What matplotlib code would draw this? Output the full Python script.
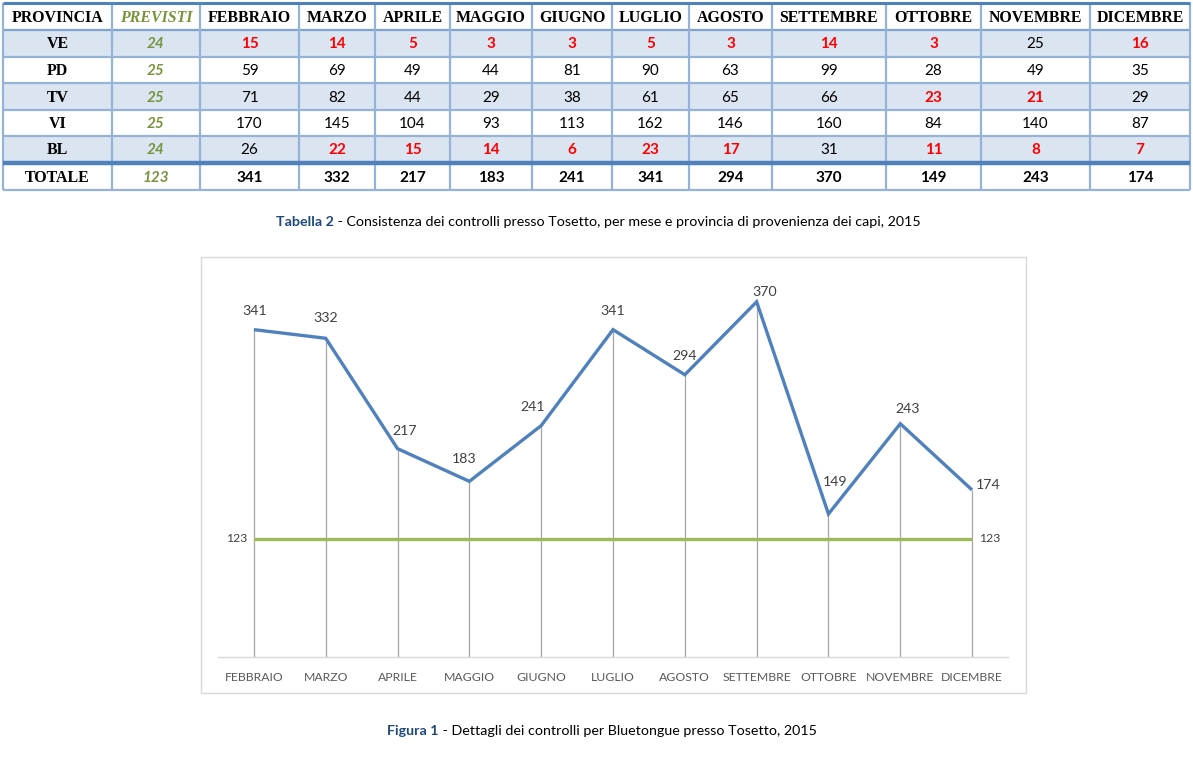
import matplotlib
matplotlib.use('Agg')
import matplotlib.pyplot as plt
from matplotlib.patches import Rectangle

# ---------------- data ----------------
months = ['FEBBRAIO', 'MARZO', 'APRILE', 'MAGGIO', 'GIUGNO', 'LUGLIO',
          'AGOSTO', 'SETTEMBRE', 'OTTOBRE', 'NOVEMBRE', 'DICEMBRE']
provinces = ['VE', 'PD', 'TV', 'VI', 'BL']
previsti = [24, 25, 25, 25, 24]
ve = [15, 14, 5, 3, 3, 5, 3, 14, 3, 25, 16]
pd_vals = [59, 69, 49, 44, 81, 90, 63, 99, 28, 49, 35]
tv = [71, 82, 44, 29, 38, 61, 65, 66, 23, 21, 29]
vi = [170, 145, 104, 93, 113, 162, 146, 160, 84, 140, 87]
bl = [26, 22, 15, 14, 6, 23, 17, 31, 11, 8, 7]
totale = [341, 332, 217, 183, 241, 341, 294, 370, 149, 243, 174]
previsti_tot = 123

rows = [ve, pd_vals, tv, vi, bl]

# ---------------- styles ----------------
W, H = 1193, 758
SERIF = 'Liberation Serif'
SANS = 'Lato'
BLUE = '#4f81bd'
LIGHT = '#95b3d7'
SHADE = '#dbe5f1'
GREEN = '#77933c'
RED = '#ff0000'

fig = plt.figure(figsize=(W / 100, H / 100), dpi=100)
fig.patch.set_facecolor('white')

# overlay axes in pixel units for table & captions
tax = fig.add_axes([0, 0, 1, 1], zorder=0)
tax.set_xlim(0, W)
tax.set_ylim(H, 0)
tax.axis('off')

col_edges = [3, 112, 200, 299, 375, 450, 532, 612, 689, 772, 886, 981, 1090, 1190]
row_edges = [3, 30, 57, 83, 110, 136, 162, 190]
shaded = [1, 3, 5]

for r in shaded:
    tax.add_patch(Rectangle((col_edges[0], row_edges[r]), col_edges[-1] - col_edges[0],
                            row_edges[r + 1] - row_edges[r], facecolor=SHADE,
                            edgecolor='none', zorder=1))

# horizontal lines
for i, y in enumerate(row_edges):
    if i == 0:
        tax.plot([col_edges[0], col_edges[-1]], [y, y], color=BLUE, lw=2.2, zorder=3,
                 solid_capstyle='butt')
    elif i == 6:
        tax.plot([col_edges[0], col_edges[-1]], [y + 1, y + 1], color=BLUE, lw=3.2, zorder=3,
                 solid_capstyle='butt')
    elif i == 1:
        tax.plot([col_edges[0], col_edges[-1]], [y, y], color='#7ea3d0', lw=1.6, zorder=2,
                 solid_capstyle='butt')
    else:
        tax.plot([col_edges[0], col_edges[-1]], [y, y], color=LIGHT, lw=1.6, zorder=2,
                 solid_capstyle='butt')
for x in col_edges:
    tax.plot([x, x], [row_edges[0], row_edges[-1]], color=LIGHT, lw=1.6, zorder=2,
             solid_capstyle='butt')

centers_x = [(col_edges[i] + col_edges[i + 1]) / 2 for i in range(len(col_edges) - 1)]
tot_top = row_edges[6] + 2
centers_y = [(row_edges[i] + row_edges[i + 1]) / 2 for i in range(6)] + [(tot_top + row_edges[7]) / 2]

HDR_FS = 11.4
NUM_FS = 11.0

# header
headers = ['PROVINCIA', 'PREVISTI'] + months
for j, h in enumerate(headers):
    if j == 1:
        tax.text(centers_x[j], centers_y[0] + 1.5, h, ha='center', va='center', family=SERIF,
                 fontweight='bold', fontstyle='italic', color=GREEN, fontsize=HDR_FS, zorder=4)
    else:
        tax.text(centers_x[j], centers_y[0] + 1.5, h, ha='center', va='center', family=SERIF,
                 fontweight='bold', color='black', fontsize=HDR_FS, zorder=4)

# body
for i, (prov, prev, vals) in enumerate(zip(provinces, previsti, rows)):
    cy = centers_y[i + 1] + 1
    tax.text(centers_x[0], cy, prov, ha='center', va='center', family=SERIF,
             fontweight='bold', fontsize=HDR_FS, color='black', zorder=4)
    tax.text(centers_x[1], cy, str(prev), ha='center', va='center', family=SANS,
             fontweight='bold', fontstyle='italic', fontsize=NUM_FS, color=GREEN, zorder=4)
    for j, v in enumerate(vals):
        below = v < prev
        tax.text(centers_x[j + 2], cy, str(v), ha='center', va='center', family=SANS,
                 fontweight='bold' if below else 'normal', fontsize=NUM_FS,
                 color=RED if below else 'black', zorder=4)

# totale row
cy = centers_y[6] + 1
tax.text(centers_x[0], cy, 'TOTALE', ha='center', va='center', family=SERIF,
         fontweight='bold', fontsize=HDR_FS, color='black', zorder=4)
tax.text(centers_x[1], cy, str(previsti_tot), ha='center', va='center', family=SANS,
         fontweight='bold', fontstyle='italic', fontsize=NUM_FS, color=GREEN, zorder=4)
for j, v in enumerate(totale):
    tax.text(centers_x[j + 2], cy, str(v), ha='center', va='center', family=SANS,
             fontweight='bold', fontsize=NUM_FS, color='black', zorder=4)

# chart frame
tax.add_patch(Rectangle((201, 257), 1026 - 201, 693 - 257, facecolor='white',
                        edgecolor='#d9d9d9', lw=1.0, zorder=1))

# ---------------- chart ----------------
ax = fig.add_axes([218 / W, (H - 657) / H, 790 / W, (657 - 273) / H], zorder=2)
ax.patch.set_alpha(0)
x = list(range(len(months)))
ax.set_xlim(-0.5, len(months) - 0.5)
ax.set_ylim(0, 400)

ax.vlines(x, 0, totale, color='#a6a6a6', lw=0.9, zorder=1)
ax.plot(x, [previsti_tot] * len(x), color='#9bbb59', lw=2.4, zorder=2, solid_capstyle='butt')
ax.plot(x, totale, color=BLUE, lw=2.4, zorder=3, solid_joinstyle='miter', solid_capstyle='butt')

for s in ['top', 'left', 'right']:
    ax.spines[s].set_visible(False)
ax.spines['bottom'].set_color('#d9d9d9')
ax.spines['bottom'].set_linewidth(1.0)
ax.set_yticks([])
ax.set_xticks(x)
ax.set_xticklabels(months, family=SANS, fontsize=8.8, color='#595959')
ax.tick_params(axis='x', length=0, pad=11)

label_off = [(1, 19), (0, 20), (7, 18), (-5, 22), (-9, 19), (0, 19),
             (0, 19), (8, 10), (7, 32), (7, 15), (16, 5)]
for xi, v, (dx, dy) in zip(x, totale, label_off):
    ax.annotate(str(v), (xi, v), xytext=(dx, dy), textcoords='offset pixels',
                ha='center', va='center', family=SANS, fontsize=10.2, color='#404040')

ax.annotate(str(previsti_tot), (x[0], previsti_tot), xytext=(-7, 0), textcoords='offset pixels',
            ha='right', va='center', family=SANS, fontsize=8.8, color='#404040')
ax.annotate(str(previsti_tot), (x[-1], previsti_tot), xytext=(7, 0), textcoords='offset pixels',
            ha='left', va='center', family=SANS, fontsize=8.8, color='#404040')

# ---------------- captions ----------------
def caption(bold, rest, cx, cy, target_w):
    size = 10.0
    t1 = tax.text(0, cy, bold, fontsize=size, fontweight='bold', color='#1f497d',
                  family=SANS, va='center', ha='left', zorder=4)
    t2 = tax.text(0, cy, rest, fontsize=size, color='black',
                  family=SANS, va='center', ha='left', zorder=4)
    fig.canvas.draw()
    r = fig.canvas.get_renderer()
    w = t1.get_window_extent(r).width + t2.get_window_extent(r).width
    size = size * target_w / w
    t1.set_fontsize(size)
    t2.set_fontsize(size)
    fig.canvas.draw()
    w1 = t1.get_window_extent(r).width
    w2 = t2.get_window_extent(r).width
    x0 = cx - (w1 + w2) / 2
    t1.set_x(x0)
    t2.set_x(x0 + w1)

caption('Tabella 2', ' - Consistenza dei controlli presso Tosetto, per mese e provincia di provenienza dei capi, 2015',
        598, 222, 648)
caption('Figura 1', ' - Dettagli dei controlli per Bluetongue presso Tosetto, 2015', 602, 731, 429)

fig.savefig('out.png', dpi=100, facecolor='white')
